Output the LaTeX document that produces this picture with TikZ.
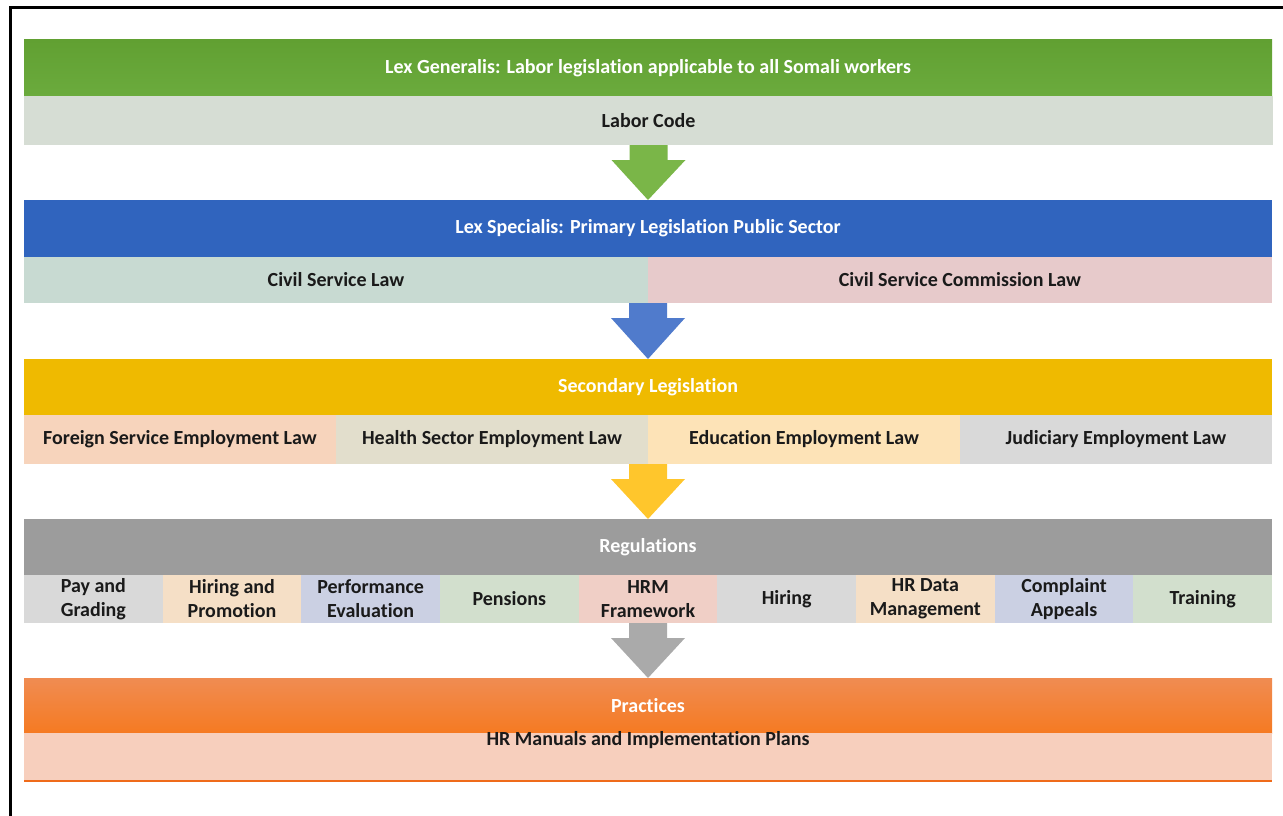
\documentclass[tikz,border=0pt]{standalone}
\usepackage{fontspec}
\setmainfont{Carlito}[Ligatures=NoCommon]
\usetikzlibrary{calc}
\definecolor{gTop}{HTML}{61A032}
\definecolor{gBot}{HTML}{6BAB3D}
\definecolor{gSub}{HTML}{D6DDD4}
\definecolor{gArr}{HTML}{7AB648}
\definecolor{bHead}{HTML}{3064BE}
\definecolor{bArr}{HTML}{507BCC}
\definecolor{csl}{HTML}{C8DAD2}
\definecolor{cscl}{HTML}{E7CACB}
\definecolor{yHead}{HTML}{EFBA00}
\definecolor{yArr}{HTML}{FFC62C}
\definecolor{peach}{HTML}{F7D4BC}
\definecolor{beige}{HTML}{E2DECC}
\definecolor{lyel}{HTML}{FDE3B7}
\definecolor{lgray}{HTML}{D9D9D9}
\definecolor{grHead}{HTML}{9C9C9C}
\definecolor{grArr}{HTML}{AAAAAA}
\definecolor{tan}{HTML}{F5DFC6}
\definecolor{lav}{HTML}{CBD0E3}
\definecolor{mint}{HTML}{D2DFCD}
\definecolor{rose}{HTML}{F0CFC6}
\definecolor{oTop}{HTML}{F08C52}
\definecolor{oBot}{HTML}{F57A22}
\definecolor{oSub}{HTML}{F7CFBD}
\definecolor{oLine}{HTML}{EF6B1A}
\definecolor{txt}{HTML}{1A1A1A}
\tikzset{
  cell/.style={rectangle, inner sep=0pt, outer sep=0pt, anchor=north west, align=center,
    font=\fontsize{20}{24}\selectfont\bfseries, text=txt},
  head/.style={cell, text=white, font=\fontsize{20}{24}\selectfont\bfseries},
}
\newcommand\blockarrow[3]{%
  \fill[#3] ($(#1)+(-19,0)$) -- ($(#1)+(19,0)$) -- ($(#1)+(19,15)$) -- ($(#1)+(37,15)$)
    -- (#2) -- ($(#1)+(-37,15)$) -- ($(#1)+(-19,15)$) -- cycle;}
\begin{document}
\begin{tikzpicture}[x=1pt,y=-1pt]
\useasboundingbox (0,0) rectangle (1283,816);
\draw[line width=3pt] (10,816) -- (10,8) -- (1283,8);
% Row 1
\node[head, minimum width=1248pt, minimum height=56pt, top color=gTop, bottom color=gBot] (h1) at (24,40) {Lex Generalis: Labor legislation applicable to all Somali workers};
\node[cell, minimum width=1249pt, minimum height=49pt, fill=gSub] (labor) at (24,96) {Labor Code};
% Row 2
\node[head, minimum width=1248pt, minimum height=57pt, fill=bHead] (h2) at (24,200) {Lex Specialis: Primary Legislation Public Sector};
\node[cell, minimum width=624pt, minimum height=46pt, fill=csl] (csl) at (24,257) {Civil Service Law};
\node[cell, minimum width=624pt, minimum height=46pt, fill=cscl] (cscl) at (648,257) {Civil Service Commission Law};
% Row 3
\node[head, minimum width=1248pt, minimum height=56pt, fill=yHead] (h3) at (24,359) {Secondary Legislation};
\node[cell, minimum width=312pt, minimum height=49pt, fill=peach] (fs) at (24,415) {Foreign Service Employment Law};
\node[cell, minimum width=312pt, minimum height=49pt, fill=beige] (hs) at (336,415) {Health Sector Employment Law};
\node[cell, minimum width=312pt, minimum height=49pt, fill=lyel] (ed) at (648,415) {Education Employment Law};
\node[cell, minimum width=312pt, minimum height=49pt, fill=lgray] (ju) at (960,415) {Judiciary Employment Law};
% Row 4
\node[head, minimum width=1248pt, minimum height=56pt, fill=grHead] (h4) at (24,519) {Regulations};
\node[cell, minimum width=138.7pt, minimum height=48pt, fill=lgray] (r1) at (24,575) {Pay and\\Grading};
\node[cell, minimum width=138.7pt, minimum height=48pt, fill=tan] (r2) at (162.7,575) {Hiring and\\Promotion};
\node[cell, minimum width=138.7pt, minimum height=48pt, fill=lav] (r3) at (301.3,575) {Performance\\Evaluation};
\node[cell, minimum width=138.7pt, minimum height=48pt, fill=mint] (r4) at (440,575) {Pensions};
\node[cell, minimum width=138.7pt, minimum height=48pt, fill=rose] (r5) at (578.7,575) {HRM\\Framework};
\node[cell, minimum width=138.7pt, minimum height=48pt, fill=lgray] (r6) at (717.3,575) {Hiring};
\node[cell, minimum width=138.7pt, minimum height=48pt, fill=tan] (r7) at (856,575) {HR Data\\Management};
\node[cell, minimum width=138.7pt, minimum height=48pt, fill=lav] (r8) at (994.7,575) {Complaint\\Appeals};
\node[cell, minimum width=138.7pt, minimum height=48pt, fill=mint] (r9) at (1133.3,575) {Training};
% Row 5
\node[head, minimum width=1248pt, minimum height=55pt, top color=oTop, bottom color=oBot] (h5) at (24,678) {Practices};
\node[cell, minimum width=1248pt, minimum height=47pt, fill=oSub] (man) at (24,733) {};
\node[cell, anchor=center] (mantxt) at (648,740) {HR Manuals and Implementation Plans};
\fill[oLine] (man.south west) rectangle ($(man.south east)+(0,2)$);
% Arrows
\blockarrow{labor.south}{h2.north}{gArr}
\coordinate (a2) at (csl.south east);
\blockarrow{a2}{h3.north}{bArr}
\coordinate (a3) at (hs.south east);
\blockarrow{a3}{h4.north}{yArr}
\coordinate (a4) at (h4.south |- r5.south);
\blockarrow{a4}{h5.north}{grArr}
\end{tikzpicture}
\end{document}
